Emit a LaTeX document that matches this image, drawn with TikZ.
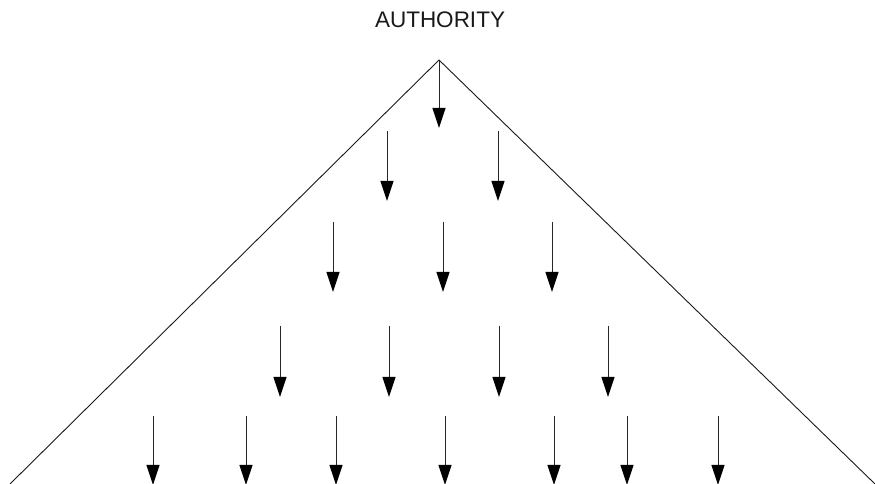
\documentclass[tikz,border=0pt]{standalone}
\usepackage{fontspec}
\setmainfont{Liberation Sans}
\usetikzlibrary{arrows.meta}
\begin{document}
\begin{tikzpicture}[x=1pt,y=1pt,
  side/.style={line width=0.9pt, black!90},
  flow/.style={line width=1pt, black!85, -{Triangle[length=20pt,width=13pt,color=black]}},
  title/.style={font=\fontsize{22.5}{26}\selectfont, anchor=base, text=black!90}]
  \useasboundingbox (0,0) rectangle (875,484);
  % pyramid outline
  \coordinate (apex) at (439,424);
  \coordinate (baseL) at (10,0);
  \coordinate (baseR) at (875,0);
  \draw[side] (baseL) -- (apex) -- (baseR);
  \node[title] (auth) at (440,456) {AUTHORITY};
  % downward arrows, row by row: x positions, top y, tip y
  \foreach \row/\xs/\ytop/\ytip in {
      1/{439}/424/356,
      2/{387,498}/353/283,
      3/{333,443,552}/262/192,
      4/{280,389,499,608}/158/87,
      5/{153,246,336,445,554,627,718}/68/-1} {
    \foreach \x [count=\i] in \xs {
      \coordinate (s\row-\i) at (\x,\ytop);
      \coordinate (t\row-\i) at (\x,\ytip);
      \draw[flow] (s\row-\i) -- (t\row-\i);
    }
  }
\end{tikzpicture}
\end{document}
